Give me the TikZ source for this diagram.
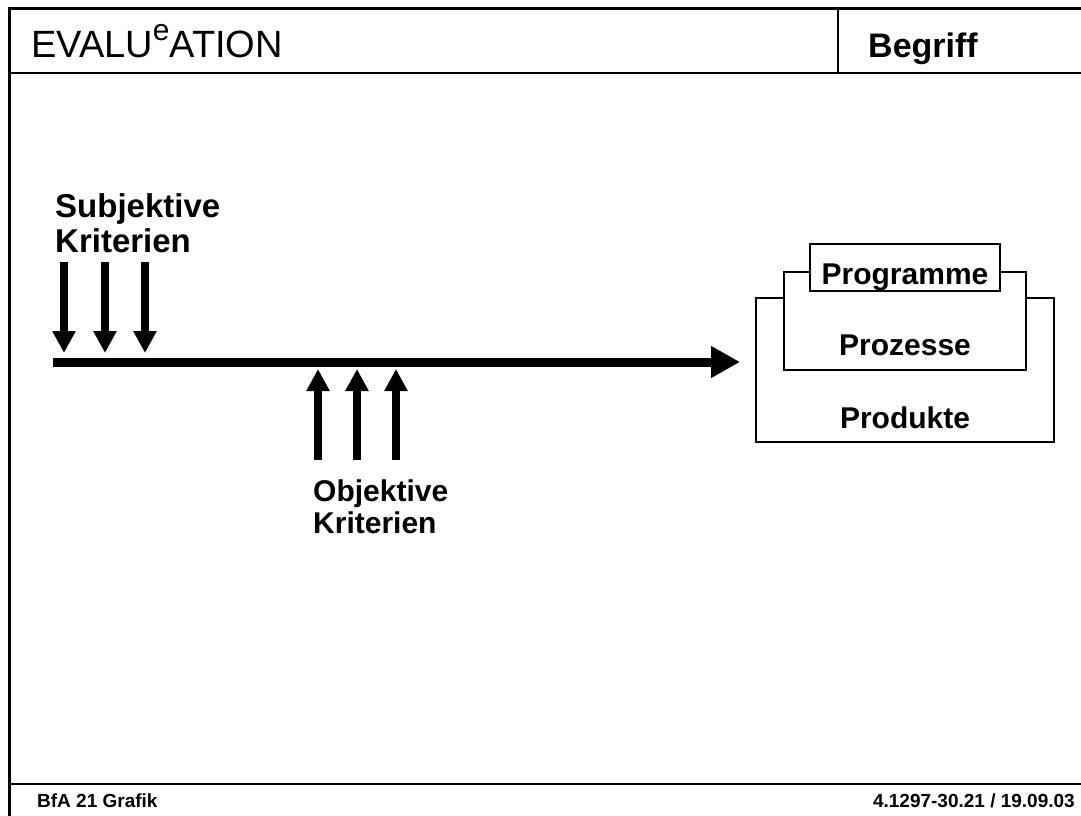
\documentclass[tikz,border=0pt]{standalone}
\usepackage{fontspec}
\setmainfont{Liberation Sans}
\usetikzlibrary{arrows.meta}
\begin{document}
\begin{tikzpicture}[x=1pt,y=-1pt,
  frame/.style={line width=3pt},
  rule/.style={line width=2pt},
  box/.style={line width=1.3pt,fill=white},
  lbl/.style={inner sep=0pt,font=\bfseries\fontsize{33}{33}\selectfont},
  blbl/.style={inner sep=0pt,font=\bfseries\fontsize{30}{30}\selectfont},
  foot/.style={inner sep=0pt,font=\bfseries\fontsize{19}{19}\selectfont},
  mainarrow/.style={line width=9pt,-{Triangle[length=29pt,width=30pt]}},
  critarrow/.style={line width=8pt,-{Triangle[length=22pt,width=22pt]}}]
\useasboundingbox (0,0) rectangle (1081,816);
% frame
\coordinate (tl) at (9,9);
\coordinate (tr) at (1081,9);
\coordinate (bl) at (9,816);
\draw[frame] (tr) -- (tl) -- (bl);
\coordinate (hl) at (9,73);
\coordinate (hr) at (1081,73);
\draw[rule] (hl) -- (hr);
\coordinate (dt) at (838,9);
\coordinate (db) at (838,73);
\draw[rule] (dt) -- (db);
\coordinate (fl) at (9,784);
\coordinate (fr) at (1081,784);
\draw[rule] (fl) -- (fr);
% title
\node[inner sep=0pt,anchor=base west] (title) at (31,57)
  {\fontsize{38}{38}\selectfont EVALU\raisebox{17pt}{\fontsize{30}{30}\selectfont e}ATION};
\node[inner sep=0pt,anchor=base west,font=\bfseries\fontsize{34}{34}\selectfont] (begriff) at (868,57) {Begriff};
% footer
\node[foot,anchor=base west] (fleft) at (37,807) {BfA 21 Grafik};
\node[foot,anchor=base east] (fright) at (1075,807) {4.1297-30.21 / 19.09.03};
% main arrow
\coordinate (ms) at (53,362);
\coordinate (me) at (740,362);
\draw[mainarrow] (ms) -- (me);
% subjective criteria
\node[lbl,anchor=base west] (subj1) at (55,217) {Subjektive};
\node[lbl,anchor=base west] (subj2) at (55,252) {Kriterien};
\coordinate (s1a) at (64,262); \coordinate (s1b) at (64,353);
\coordinate (s2a) at (105,262); \coordinate (s2b) at (105,353);
\coordinate (s3a) at (145,262); \coordinate (s3b) at (145,353);
\draw[critarrow] (s1a) -- (s1b);
\draw[critarrow] (s2a) -- (s2b);
\draw[critarrow] (s3a) -- (s3b);
% objective criteria
\coordinate (o1a) at (318,460); \coordinate (o1b) at (318,369);
\coordinate (o2a) at (357,460); \coordinate (o2b) at (357,369);
\coordinate (o3a) at (396,460); \coordinate (o3b) at (396,369);
\draw[critarrow] (o1a) -- (o1b);
\draw[critarrow] (o2a) -- (o2b);
\draw[critarrow] (o3a) -- (o3b);
\node[blbl,anchor=base west] (obj1) at (313,501) {Objektive};
\node[blbl,anchor=base west] (obj2) at (313,533) {Kriterien};
% boxes
\draw[box] (756,298) rectangle (1054,442);
\draw[box] (784,272) rectangle (1026,370);
\draw[box] (810,244) rectangle (1000,291);
\node[blbl,anchor=base] (prog) at (905,284) {Programme};
\node[blbl,anchor=base] (proz) at (905,355) {Prozesse};
\node[blbl,anchor=base] (prod) at (905,428) {Produkte};
\end{tikzpicture}
\end{document}
